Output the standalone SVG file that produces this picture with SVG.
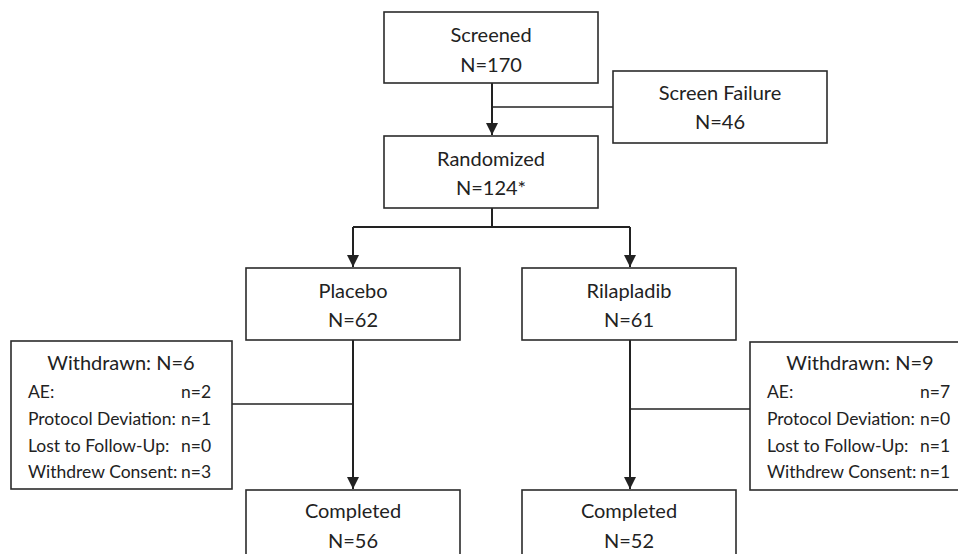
<svg xmlns="http://www.w3.org/2000/svg" width="958" height="554" viewBox="0 0 958 554">
<style>
.box{fill:#fff;stroke:#2b2b2b;stroke-width:1.6}
.t{font-family:Lato,"Liberation Sans",sans-serif;font-size:20px;fill:#222;text-anchor:middle}
.h{font-size:20px}
.s{font-family:Lato,"Liberation Sans",sans-serif;font-size:17.5px;fill:#222}
.ln{fill:none;stroke:#222;stroke-width:2}
</style>
<defs>
<marker id="ah" viewBox="0 0 12 12" refX="12" refY="6" markerWidth="12" markerHeight="12" markerUnits="userSpaceOnUse" orient="auto">
<path d="M0,0 L12,6 L0,12 Z" fill="#222"/>
</marker>
</defs>
<rect width="958" height="554" fill="#fff"/>
<g id="connectors">
<path class="ln" d="M492,83 V135" marker-end="url(#ah)"/>
<path class="ln" d="M492,107 H613" style="stroke-width:1.6"/>
<path class="ln" d="M492,208 V227"/>
<path class="ln" d="M353,227 H630"/>
<path class="ln" d="M353,227 V267" marker-end="url(#ah)"/>
<path class="ln" d="M630,227 V267" marker-end="url(#ah)"/>
<path class="ln" d="M353,340 V489" marker-end="url(#ah)"/>
<path class="ln" d="M630,340 V489" marker-end="url(#ah)"/>
<path class="ln" d="M232,404 H353" style="stroke-width:1.6"/>
<path class="ln" d="M630,409 H750" style="stroke-width:1.6"/>
</g>
<g id="screened">
<rect class="box" x="384" y="12" width="214" height="71"/>
<text class="t" x="491" y="42">Screened</text>
<text class="t" x="491" y="72">N=170</text>
</g>
<g id="screenfailure">
<rect class="box" x="613" y="71" width="214" height="72"/>
<text class="t" x="720" y="100">Screen Failure</text>
<text class="t" x="720" y="129">N=46</text>
</g>
<g id="randomized">
<rect class="box" x="384" y="136" width="214" height="72"/>
<text class="t" x="491" y="166">Randomized</text>
<text class="t" x="491" y="195">N=124*</text>
</g>
<g id="placebo">
<rect class="box" x="246" y="268" width="214" height="72"/>
<text class="t" x="353" y="298">Placebo</text>
<text class="t" x="353" y="327">N=62</text>
</g>
<g id="rilapladib">
<rect class="box" x="522" y="268" width="214" height="72"/>
<text class="t" x="629" y="298">Rilapladib</text>
<text class="t" x="629" y="327">N=61</text>
</g>
<g id="withdrawn-placebo">
<rect class="box" x="11" y="341" width="221" height="148"/>
<text class="t h" x="121" y="370">Withdrawn: N=6</text>
<text class="s" x="28" y="398">AE:</text><text class="s" x="181" y="398">n=2</text>
<text class="s" x="28" y="425">Protocol Deviation:</text><text class="s" x="181" y="425">n=1</text>
<text class="s" x="28" y="452">Lost to Follow-Up:</text><text class="s" x="181" y="452">n=0</text>
<text class="s" x="28" y="478">Withdrew Consent:</text><text class="s" x="181" y="478">n=3</text>
</g>
<g id="withdrawn-rilapladib">
<rect class="box" x="750" y="342" width="220" height="148"/>
<text class="t h" x="860" y="370">Withdrawn: N=9</text>
<text class="s" x="767" y="398">AE:</text><text class="s" x="920" y="398">n=7</text>
<text class="s" x="767" y="425">Protocol Deviation:</text><text class="s" x="920" y="425">n=0</text>
<text class="s" x="767" y="452">Lost to Follow-Up:</text><text class="s" x="920" y="452">n=1</text>
<text class="s" x="767" y="478">Withdrew Consent:</text><text class="s" x="920" y="478">n=1</text>
</g>
<g id="completed-placebo">
<rect class="box" x="246" y="490" width="214" height="80"/>
<text class="t" x="353" y="518">Completed</text>
<text class="t" x="353" y="548">N=56</text>
</g>
<g id="completed-rilapladib">
<rect class="box" x="522" y="490" width="214" height="80"/>
<text class="t" x="629" y="518">Completed</text>
<text class="t" x="629" y="548">N=52</text>
</g>
</svg>
